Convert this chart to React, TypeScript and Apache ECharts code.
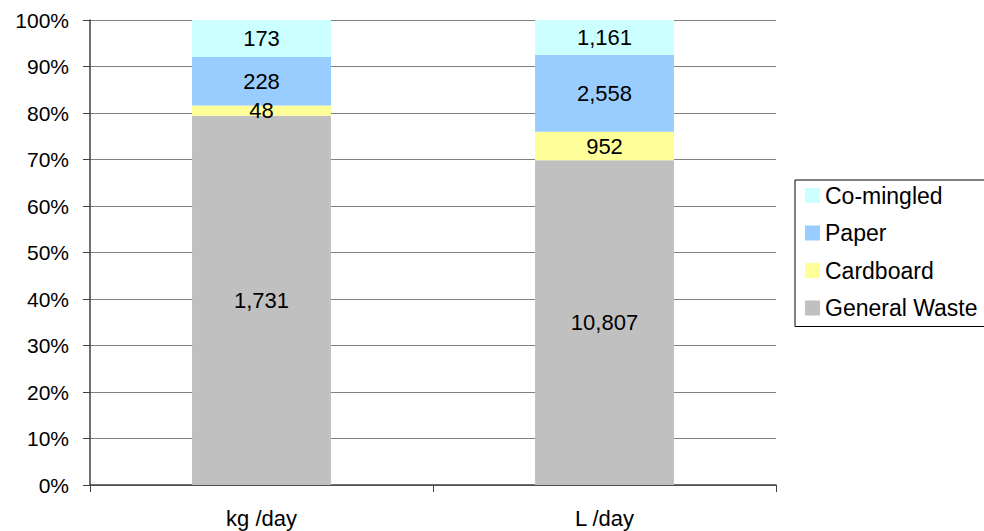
import React, { useEffect, useRef } from "react";
import * as echarts from "echarts";

const categories = ["kg /day", "L /day"];
const generalWaste = [1731, 10807];
const cardboard = [48, 952];
const paper = [228, 2558];
const coMingled = [173, 1161];
const yTicks = [0, 10, 20, 30, 40, 50, 60, 70, 80, 90, 100];

const seriesDefs = [
  { name: "General Waste", values: generalWaste, color: "#C0C0C0" },
  { name: "Cardboard", values: cardboard, color: "#FFFF99" },
  { name: "Paper", values: paper, color: "#99CCFF" },
  { name: "Co-mingled", values: coMingled, color: "#CCFFFF" },
];

const FONT = "'Liberation Sans', Arial, Helvetica, sans-serif";

export default function App() {
  const ref = useRef<HTMLDivElement>(null);

  useEffect(() => {
    if (!ref.current) return;
    const chart = echarts.init(ref.current, null, { renderer: "svg" });
    const totals = categories.map((_, i) =>
      seriesDefs.reduce((s, d) => s + d.values[i], 0)
    );
    chart.setOption({
      animation: false,
      backgroundColor: "#ffffff",
      textStyle: { fontFamily: FONT },
      grid: { left: 90, right: 208, top: 20, bottom: 46, containLabel: false },
      legend: {
        orient: "vertical",
        left: 795,
        top: 180,
        data: seriesDefs.map((d) => d.name).reverse(),
        icon: "rect",
        itemWidth: 15,
        itemHeight: 15,
        itemGap: 14.5,
        padding: [4, 10, 7, 10],
        borderColor: "#000000",
        borderWidth: 1,
        textStyle: { fontFamily: FONT, fontSize: 23, color: "#000" },
      },
      xAxis: {
        type: "category",
        data: categories,
        axisLine: { show: true, lineStyle: { color: "#404040", width: 1.5 } },
        axisTick: { show: true, length: 7, lineStyle: { color: "#404040" } },
        axisLabel: { fontFamily: FONT, fontSize: 22, color: "#000", margin: 22 },
      },
      yAxis: {
        type: "value",
        min: yTicks[0],
        max: yTicks[yTicks.length - 1],
        interval: 10,
        axisLine: { show: true, lineStyle: { color: "#404040", width: 1.5 } },
        axisTick: { show: true, length: 7, lineStyle: { color: "#404040" } },
        axisLabel: {
          fontFamily: FONT,
          fontSize: 21,
          color: "#000",
          margin: 21,
          formatter: "{value}%",
        },
        splitLine: { show: true, lineStyle: { color: "#808080", width: 1 } },
      },
      series: seriesDefs.map((d) => ({
        name: d.name,
        type: "bar",
        stack: "total",
        barWidth: "40.5%",
        itemStyle: { color: d.color },
        label: {
          show: true,
          position: "inside",
          fontFamily: FONT,
          fontSize: 22,
          color: "#000",
          formatter: (p: any) => p.data.raw.toLocaleString("en-US"),
        },
        data: d.values.map((v, i) => ({ value: (v / totals[i]) * 100, raw: v })),
      })),
    });
    return () => chart.dispose();
  }, []);

  return (
    <div
      ref={ref}
      style={{ position: "fixed", left: 0, top: 0, width: 984, height: 531 }}
    />
  );
}
